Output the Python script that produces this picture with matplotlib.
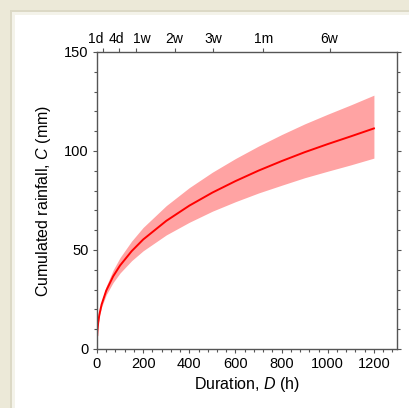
import numpy as np
import matplotlib
matplotlib.use("Agg")
import matplotlib.pyplot as plt
from matplotlib.patches import Rectangle
from matplotlib.ticker import MultipleLocator

plt.rcParams['font.family'] = ['Liberation Sans', 'DejaVu Sans']
plt.rcParams['mathtext.fontset'] = 'custom'
plt.rcParams['mathtext.rm'] = 'Liberation Sans'
plt.rcParams['mathtext.it'] = 'Liberation Sans:italic'

# Threshold curve: duration (h), cumulated rainfall (mm)
duration = [1, 2, 5, 10, 20, 40, 70, 100, 150, 200, 300, 400, 500,
            600, 700, 800, 900, 1000, 1100, 1200]
rain_mid = [7.0, 9.2, 13.1, 17.2, 22.5, 29.5, 36.7, 42.2, 49.4, 55.3, 64.7,
            72.4, 79.0, 84.8, 90.1, 94.9, 99.4, 103.5, 107.4, 111.4]
rain_low = [7.0, 9.1, 12.7, 16.4, 21.2, 27.4, 33.6, 38.4, 44.6, 49.6, 57.6,
            64.0, 69.6, 74.4, 78.8, 82.7, 86.5, 89.8, 93.0, 96.4]
rain_high = [7.0, 9.3, 13.5, 18.0, 23.9, 31.7, 39.9, 46.2, 54.5, 61.4, 72.4,
             81.5, 89.3, 96.2, 102.5, 108.3, 113.7, 118.6, 123.3, 128.2]

# Top axis: durations in days / weeks / months
top_ticks = [24, 96, 168, 336, 504, 720, 1008]
top_labels = ["1d", "4d", "1w", "2w", "3w", "1m", "6w"]

fig = plt.figure(figsize=(4.1, 4.08), dpi=100)
fig.patch.set_facecolor('#ECE9D8')

# white panel with a thin beveled edge (drawn behind the axes)
for x0, col in [(10, '#DCD9C6'), (12, '#F4F3EA'), (15, 'white')]:
    fig.patches.append(Rectangle((x0 / 410, -0.1), 1.2, (408 - x0) / 408 + 0.1,
                                 transform=fig.transFigure, facecolor=col,
                                 edgecolor='none', zorder=-10))

ax = fig.add_axes([97 / 410, 59 / 408, 300 / 410, 297 / 408])
ax.set_facecolor('none')

ax.fill_between(duration, rain_low, rain_high, color='#FFA3A3', linewidth=0)
ax.plot(duration, rain_mid, color='#FF0000', linewidth=1.4)

ax.set_xlim(0, 1300)
ax.set_ylim(0, 150)
ax.xaxis.set_major_locator(MultipleLocator(200))
ax.xaxis.set_minor_locator(MultipleLocator(40))
ax.yaxis.set_major_locator(MultipleLocator(50))
ax.yaxis.set_minor_locator(MultipleLocator(10))

ax.set_xlabel("Duration, $D$ (h)", fontsize=11.5, labelpad=3)
ax.set_ylabel("Cumulated rainfall, $C$ (mm)", fontsize=11.5, labelpad=8)

for side in ['left', 'right', 'top', 'bottom']:
    ax.spines[side].set_color('#555555')
    ax.spines[side].set_linewidth(1.0)

ax.tick_params(which='major', direction='out', length=3, width=0.8,
               color='#555555', labelsize=10.5, pad=3)
ax.tick_params(which='minor', direction='out', length=2, width=0.8,
               color='#555555')
ax.tick_params(axis='y', which='both', right=True)

# duration ticks on top; labels nudged apart where they crowd
top = ax.secondary_xaxis('top')
top.set_xticks(top_ticks)
top.set_xticklabels([])
top.tick_params(direction='out', length=3, width=0.8, color='#555555')
top.spines['top'].set_visible(False)

nudge = [-5, -1.8, 4.3, 0, 0, 0, 0]
for t, lab, dx in zip(top_ticks, top_labels, nudge):
    ax.annotate(lab, xy=(t, 1), xycoords=('data', 'axes fraction'),
                xytext=(dx, 6.5), textcoords='offset points',
                ha='center', va='baseline', fontsize=10)

fig.savefig("out.png", dpi=100, facecolor=fig.get_facecolor())
